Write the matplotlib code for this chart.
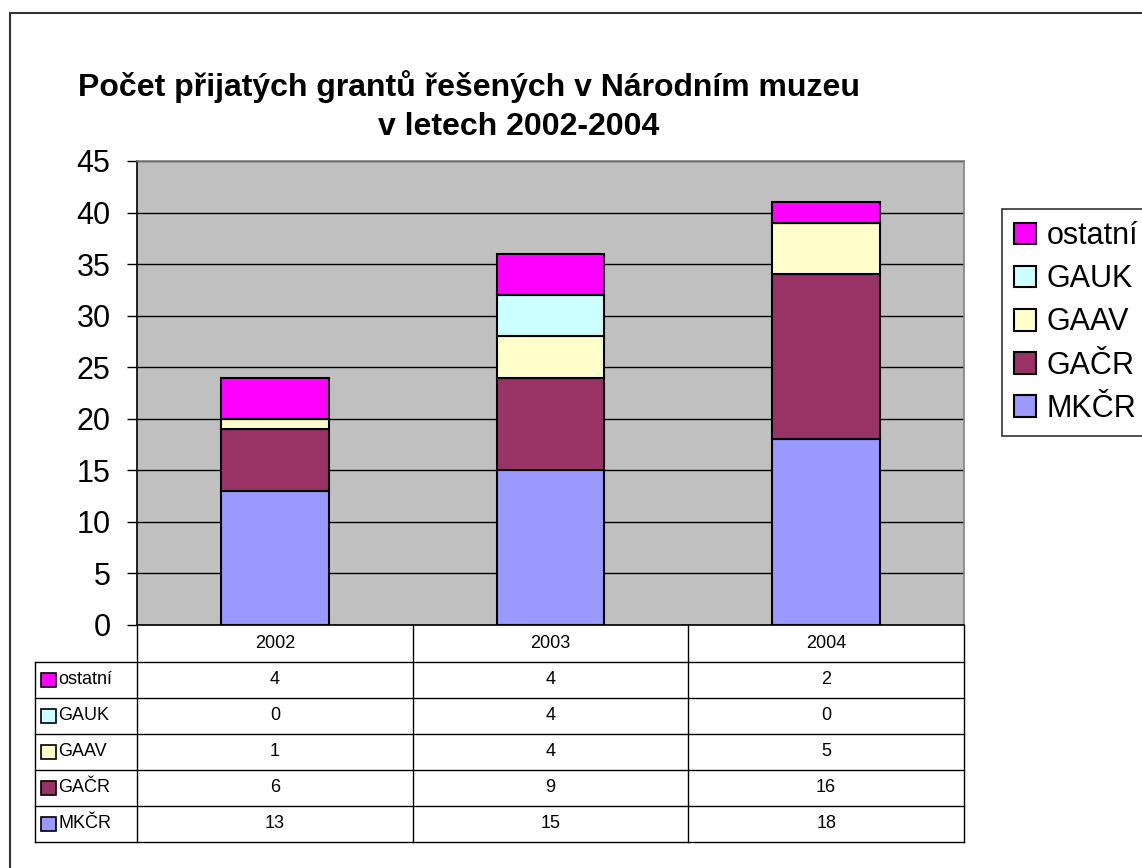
import numpy as np
import matplotlib
matplotlib.use("Agg")
import matplotlib.pyplot as plt
from matplotlib.patches import Rectangle, Patch

plt.rcParams['font.family'] = ['Liberation Sans', 'DejaVu Sans']

# ---- Data ----
years = ["2002", "2003", "2004"]
series_names = ["MKČR", "GAČR", "GAAV", "GAUK", "ostatní"]
mkcr = [13, 15, 18]
gacr = [6, 9, 16]
gaav = [1, 4, 5]
gauk = [0, 4, 0]
ostatni = [4, 4, 2]
series_values = [mkcr, gacr, gaav, gauk, ostatni]
colors = ["#9999FF", "#993366", "#FFFFCC", "#CCFFFF", "#FF00FF"]

W, H = 1142, 868

def fx(px):
    return px / W

def fy(py):
    return 1 - py / H

fig = plt.figure(figsize=(W / 100, H / 100), dpi=100)

# ---- Outer chart border ----
fig.patches.append(Rectangle((fx(10), -0.1), 1.5, fy(13) + 0.1, transform=fig.transFigure,
                             fill=False, edgecolor="#333333", linewidth=1.5))

# ---- Title ----
fig.text(fx(469), fy(87), "Počet přijatých grantů řešených v Národním muzeu",
         ha="center", va="center", fontsize=23, fontweight="bold")
fig.text(fx(519), fy(127), "v letech 2002-2004",
         ha="center", va="center", fontsize=23, fontweight="bold")

# ---- Plot ----
ax = fig.add_axes([fx(137), fy(625), fx(964) - fx(137), fy(161) - fy(625)])
ax.set_facecolor("#C0C0C0")
x = np.arange(len(years))
bottom = np.zeros(len(years))
for name, vals, color in zip(series_names, series_values, colors):
    ax.bar(x, vals, 0.39, bottom=bottom, color=color, edgecolor="black",
           linewidth=1.5, zorder=3, label=name)
    bottom += np.array(vals)

ax.set_xlim(-0.5, len(years) - 0.5)
ax.set_ylim(0, 45)
ax.set_yticks(range(0, 46, 5))
ax.set_xticks([])
ax.yaxis.grid(True, color="black", linewidth=1)
ax.set_axisbelow(True)
ax.tick_params(axis="y", labelsize=22, length=7, width=1, pad=12)
ax.spines["left"].set_color("black")
ax.spines["bottom"].set_color("black")
ax.spines["top"].set_color("#808080")
ax.spines["right"].set_color("#808080")
for s in ax.spines.values():
    s.set_linewidth(1.2)

# ---- Legend ----
handles = [Patch(facecolor=c, edgecolor="black", linewidth=1.5) for c in colors][::-1]
leg = fig.legend(handles, series_names[::-1], loc="upper left",
                 bbox_to_anchor=(fx(1002), fy(209)), bbox_transform=fig.transFigure,
                 fontsize=22, frameon=True, fancybox=False, borderaxespad=0,
                 handlelength=0.7, handleheight=0.7, handletextpad=0.35,
                 labelspacing=0.43, borderpad=0.4)
leg.get_frame().set_edgecolor("black")
leg.get_frame().set_linewidth(1.2)

# ---- Data table ----
fig.canvas.draw()
tab = fig.add_axes([0, 0, 1, 1], zorder=-1)
tab.set_xlim(0, W)
tab.set_ylim(H, 0)
tab.axis("off")

col_edges = [ax.transData.transform((i - 0.5, 0))[0] for i in range(len(years) + 1)]
header_top, header_bottom = 625, 662
row_h = 36
n_rows = len(series_names)
table_bottom = header_bottom + n_rows * row_h
label_left = 35

for xe in col_edges:
    tab.plot([xe, xe], [header_top, table_bottom], color="black", linewidth=1)
tab.plot([label_left, label_left], [header_bottom, table_bottom], color="black", linewidth=1)
for r in range(n_rows + 1):
    yy = header_bottom + r * row_h
    tab.plot([label_left, col_edges[-1]], [yy, yy], color="black", linewidth=1)

for i, yr in enumerate(years):
    cx = (col_edges[i] + col_edges[i + 1]) / 2
    tab.text(cx, (header_top + header_bottom) / 2, yr, ha="center", va="center", fontsize=13)

rows = list(zip(series_names, series_values, colors))[::-1]
for r, (name, vals, color) in enumerate(rows):
    cy = header_bottom + (r + 0.5) * row_h
    tab.add_patch(Rectangle((41, cy - 7), 15, 14, facecolor=color, edgecolor="black", linewidth=1.2))
    tab.text(58, cy, name, ha="left", va="center", fontsize=13)
    for i, v in enumerate(vals):
        cx = (col_edges[i] + col_edges[i + 1]) / 2
        tab.text(cx, cy, str(v), ha="center", va="center", fontsize=13)

fig.savefig("out.png", dpi=100)
